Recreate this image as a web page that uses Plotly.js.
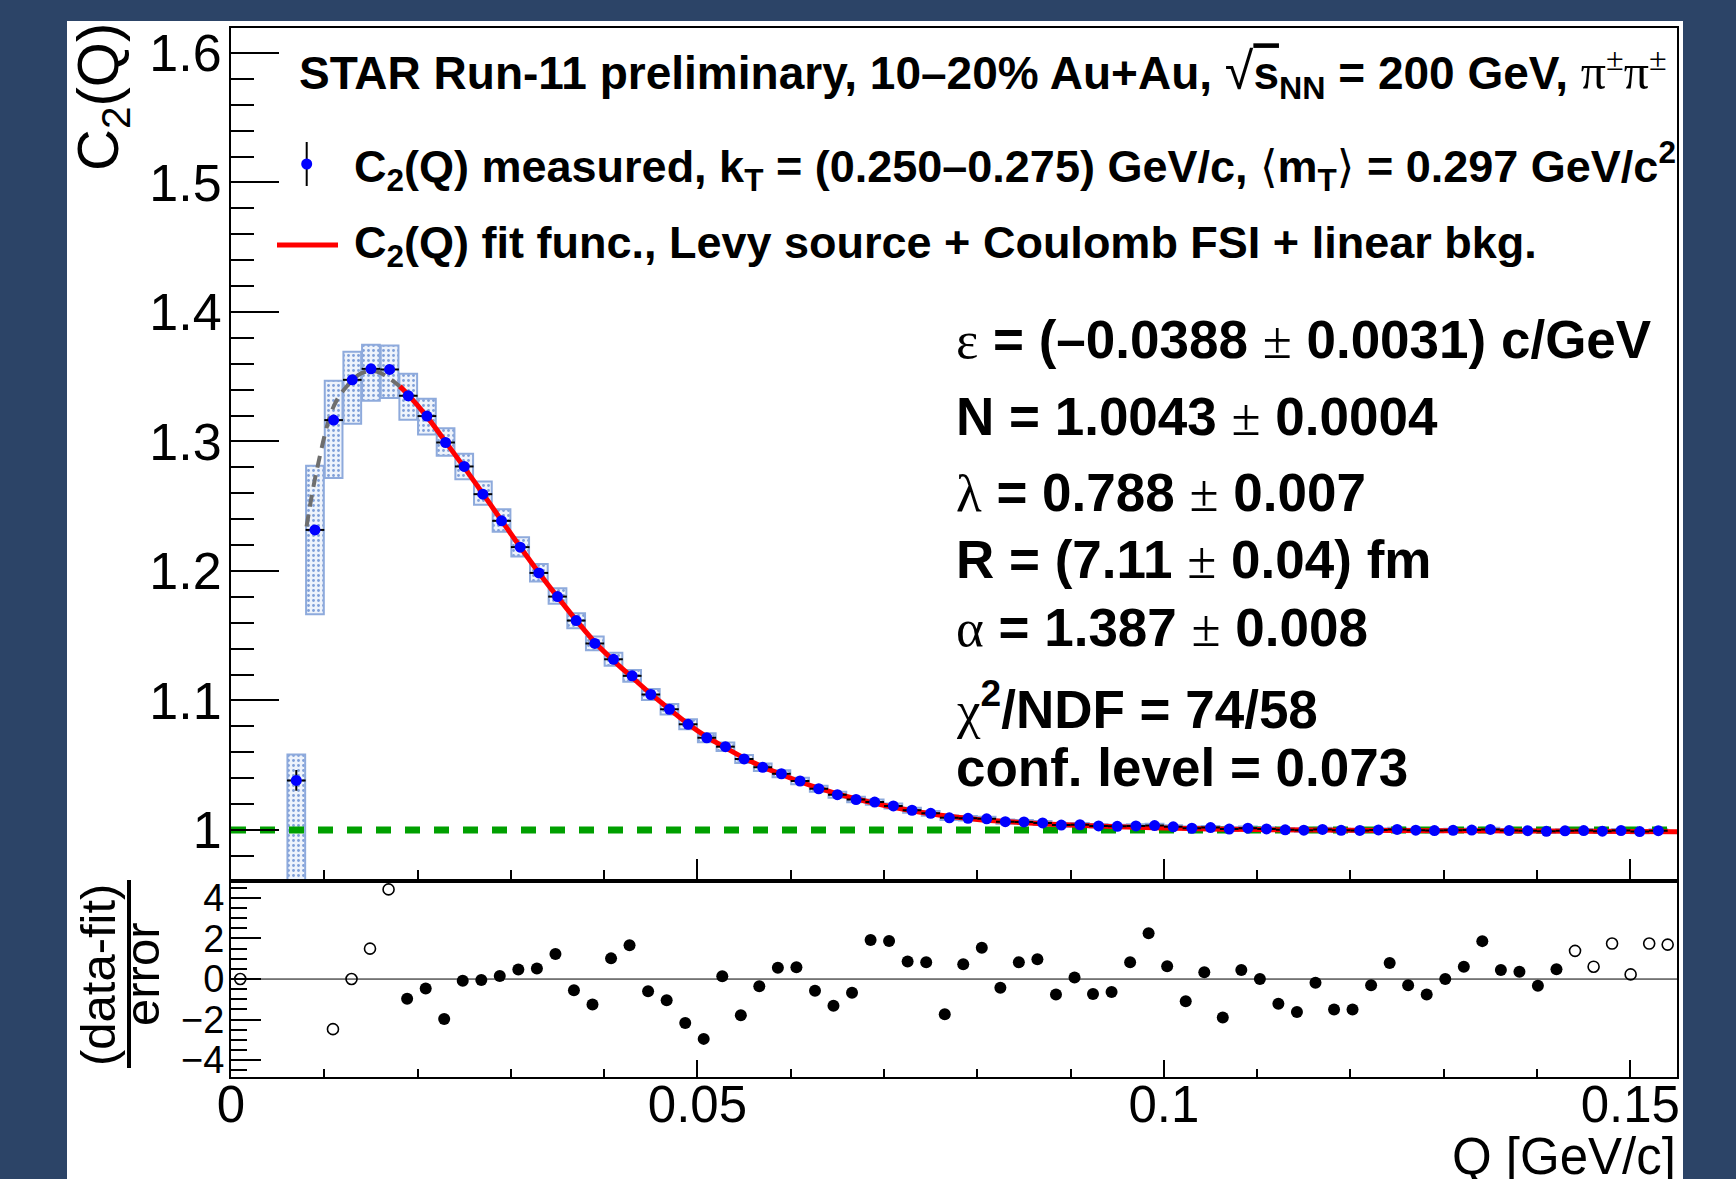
<!DOCTYPE html>
<html><head><meta charset="utf-8">
<script src="https://cdn.plot.ly/plotly-3.0.1.min.js"></script>
<style>
html,body{margin:0;padding:0;background:#2c4467;width:1736px;height:1179px;overflow:hidden;}
#plot{position:absolute;left:67px;top:21px;width:1616px;height:1158px;background:#fff;}
</style></head><body><div id="plot"></div>
<script>
// ---------------- data ----------------
const Q = [0.007,0.009,0.011,0.013,0.015,0.017,0.019,0.021,0.023,0.025,0.027,0.029,0.031,0.033,0.035,0.037,0.039,0.041,0.043,0.045,0.047,0.049,0.051,0.053,0.055,0.057,0.059,0.061,0.063,0.065,0.067,0.069,0.071,0.073,0.075,0.077,0.079,0.081,0.083,0.085,0.087,0.089,0.091,0.093,0.095,0.097,0.099,0.101,0.103,0.105,0.107,0.109,0.111,0.113,0.115,0.117,0.119,0.121,0.123,0.125,0.127,0.129,0.131,0.133,0.135,0.137,0.139,0.141,0.143,0.145,0.147,0.149,0.151,0.153];
const C2 = [1.0382,1.2317,1.3165,1.3476,1.3561,1.3556,1.3353,1.3196,1.2992,1.2807,1.2593,1.2387,1.2184,1.1985,1.1802,1.1617,1.1440,1.1318,1.1190,1.1046,1.0932,1.0816,1.0712,1.0643,1.0548,1.0484,1.0434,1.0378,1.0318,1.0272,1.0235,1.0215,1.0185,1.0152,1.0128,1.0094,1.0090,1.0086,1.0064,1.0062,1.0054,1.0038,1.0040,1.0031,1.0028,1.0031,1.0034,1.0024,1.0013,1.0018,1.0007,1.0014,1.0008,1.0001,0.9998,1.0004,0.9997,0.9996,1.0000,1.0004,0.9998,0.9995,0.9997,0.9999,1.0004,0.9995,0.9994,0.9989,0.9993,0.9995,0.9990,0.9995,0.9987,0.9994];
const statErr = [0.008,0.003,0.0025,0.002,0.002,0.0018,0.0016,0.0016,0.0016,0.0016,0.0016,0.0016,0.0016,0.0016,0.0016,0.0016,0.0016,0.0016,0.0016,0.0016,0.0016,0.0016,0.0013,0.0013,0.0013,0.0013,0.0013,0.0013,0.0013,0.0013,0.0013,0.0013,0.0013,0.0013,0.0013,0.0013,0.0013,0.0013,0.0013,0.0013,0.0013,0.0013,0.0011,0.0011,0.0011,0.0011,0.0011,0.0011,0.0011,0.0011,0.0011,0.0011,0.0011,0.0011,0.0011,0.0011,0.0011,0.0011,0.0011,0.0011,0.0011,0.0011,0.0011,0.0011,0.0011,0.0011,0.0011,0.0011,0.0011,0.0011,0.0011,0.0011,0.0011,0.0011];
const binHalfWidth = 0.001;
const sysUp = [0.020,0.0495,0.0304,0.0217,0.0186,0.0185,0.017,0.0133,0.0111,0.0098,0.0098,0.009,0.0076,0.0068,0.0065,0.0057,0.0053,0.0050,0.0046,0.0043,0.0040,0.0038,0.0035,0.0033,0.0031,0.0029,0.0027,0.0025,0.0024,0.0023,0.0022,0.0021,0.0020,0.0019,0.0018,0.0017,0.0017,0.0016,0.0016,0.0015,0.0015,0.0014,0.0014,0.0013,0.0013,0.0013,0.0013,0.0013,0.0013,0.0013,0.0013,0.0013,0.0012,0.0012,0.0012,0.0012,0.0012,0.0012,0.0012,0.0012,0.0012,0.0012,0.0012,0.0012,0.0012,0.0012,0.0012,0.0012,0.0012,0.0012,0.0012,0.0012,0.0012,0.0012];
const sysDown = [0.10,0.0651,0.0448,0.034,0.0247,0.0221,0.0186,0.0142,0.0103,0.0098,0.0082,0.0085,0.0073,0.0067,0.0056,0.0059,0.0053,0.0050,0.0046,0.0043,0.0040,0.0038,0.0035,0.0033,0.0031,0.0029,0.0027,0.0025,0.0024,0.0023,0.0022,0.0021,0.0020,0.0019,0.0018,0.0017,0.0017,0.0016,0.0016,0.0015,0.0015,0.0014,0.0014,0.0013,0.0013,0.0013,0.0013,0.0013,0.0013,0.0013,0.0013,0.0013,0.0012,0.0012,0.0012,0.0012,0.0012,0.0012,0.0012,0.0012,0.0012,0.0012,0.0012,0.0012,0.0012,0.0012,0.0012,0.0012,0.0012,0.0012,0.0012,0.0012,0.0012,0.0012];

// fit function (red, fit range) and its extrapolation (grey dashed)
const fitQ  = [0.0181,0.019,0.021,0.023,0.025,0.027,0.029,0.031,0.033,0.035,0.037,0.039,0.041,0.043,0.045,0.047,0.049,0.051,0.053,0.055,0.057,0.059,0.061,0.063,0.065,0.067,0.069,0.071,0.073,0.075,0.077,0.080,0.085,0.090,0.095,0.100,0.105,0.110,0.120,0.130,0.140,0.155];
const fitC2 = [1.3425,1.3360,1.3192,1.2997,1.2800,1.2597,1.2390,1.2185,1.1987,1.1800,1.1620,1.1450,1.1308,1.1178,1.1050,1.0932,1.0818,1.0718,1.0635,1.0556,1.0487,1.0428,1.0372,1.0322,1.0279,1.0241,1.0206,1.0175,1.0148,1.0125,1.0105,1.0081,1.0056,1.0038,1.0025,1.0015,1.0008,1.0003,0.9997,0.9994,0.9991,0.9986];
const extrapQ  = [0.0081,0.0092,0.0110,0.0124,0.0140,0.0156,0.0167,0.0181];
const extrapC2 = [1.2343,1.2780,1.3270,1.3425,1.3528,1.3540,1.3502,1.3425];

// residuals (data-fit)/error : fitted points (filled) and points outside fit range (open)
const resQ   = [0.01888,0.02087,0.02285,0.02484,0.02683,0.02881,0.03080,0.03279,0.03478,0.03676,0.03875,0.04074,0.04272,0.04471,0.04670,0.04869,0.05067,0.05266,0.05465,0.05663,0.05862,0.06061,0.06260,0.06458,0.06657,0.06856,0.07054,0.07253,0.07452,0.07651,0.07849,0.08048,0.08247,0.08445,0.08644,0.08843,0.09042,0.09240,0.09439,0.09638,0.09836,0.10035,0.10234,0.10433,0.10631,0.10830,0.11029,0.11227,0.11426,0.11625,0.11824,0.12022,0.12221,0.12420,0.12618,0.12817,0.13016,0.13215,0.13413,0.13612,0.13811,0.14009,0.14208];
const resVal = [-0.97,-0.47,-1.97,-0.08,-0.05,0.15,0.47,0.52,1.23,-0.55,-1.25,1.02,1.67,-0.6,-1.05,-2.17,-2.95,0.14,-1.78,-0.35,0.56,0.58,-0.58,-1.32,-0.68,1.93,1.88,0.86,0.83,-1.74,0.73,1.54,-0.43,0.83,0.98,-0.76,0.08,-0.74,-0.64,0.83,2.26,0.63,-1.09,0.33,-1.90,0.45,0.0,-1.22,-1.62,-0.18,-1.50,-1.50,-0.31,0.79,-0.30,-0.76,0.0,0.61,1.87,0.45,0.36,-0.33,0.48];
const openQ   = [0.00099,0.01093,0.01292,0.01490,0.01689,0.14407,0.14606,0.14804,0.15003,0.15202,0.15400];
const openVal = [0,-2.47,0,1.5,4.42,1.39,0.61,1.75,0.23,1.75,1.70];

const refC2 = 1;      // green dashed reference
const refRes = 0;     // zero line in ratio panel
const qRange = [0, 0.155];
const c2Range = [0.9608, 1.6193];
const resRange = [-4.83, 4.85];

// ---------------- layout helpers ----------------
const W = 1616, H = 1158, M = {l:164, r:6, t:7, b:102};
const OX = 67, OY = 21;
const px = X => (X - OX - M.l) / (W - M.l - M.r);
const py = Y => 1 - (Y - OY - M.t) / (H - M.t - M.b);
const SANS = 'Liberation Sans, Arial, sans-serif';
const gr = t => `<span style="font-family:'Liberation Serif';font-weight:normal">${t}</span>`;
const ang = t => `<span style="font-family:'DejaVu Serif';font-weight:normal">${t}</span>`;
const split = py(880.7);

const traces = [
  { type:'bar', x:Q, base:C2.map((v,i)=>v - sysDown[i]), y:sysUp.map((u,i)=>u + sysDown[i]),
    width:0.0019, xaxis:'x', yaxis:'y', hoverinfo:'skip',
    marker:{color:'#eef3fb', line:{color:'#8eaadc', width:2},
            pattern:{shape:'.', fgcolor:'#7f9fd8', bgcolor:'#eef3fb', size:5, solidity:0.25, fillmode:'replace'}} },
  { type:'scatter', mode:'lines', x:qRange, y:[refC2, refC2], xaxis:'x', yaxis:'y', hoverinfo:'skip',
    line:{color:'#00a000', width:7, dash:'15px,14px'} },
  { type:'scatter', mode:'lines', x:extrapQ, y:extrapC2, xaxis:'x', yaxis:'y', hoverinfo:'skip',
    line:{color:'#6e6e6e', width:4, dash:'12px,8px', shape:'spline'} },
  { type:'scatter', mode:'lines', x:fitQ, y:fitC2, xaxis:'x', yaxis:'y', hoverinfo:'skip',
    line:{color:'#ff0000', width:5, shape:'spline'} },
  { type:'scatter', mode:'markers', x:Q, y:C2, xaxis:'x', yaxis:'y', hoverinfo:'skip',
    marker:{color:'#0000ff', size:11, line:{width:0}},
    error_x:{type:'constant', value:binHalfWidth, color:'#000', thickness:2, width:0},
    error_y:{type:'data', array:statErr, color:'#000', thickness:2, width:0} },
  { type:'scatter', mode:'lines', x:qRange, y:[refRes, refRes], xaxis:'x2', yaxis:'y2', hoverinfo:'skip',
    line:{color:'#000', width:1} },
  { type:'scatter', mode:'markers', x:resQ, y:resVal, xaxis:'x2', yaxis:'y2', hoverinfo:'skip', cliponaxis:false,
    marker:{color:'#000', size:12, symbol:'circle'} },
  { type:'scatter', mode:'markers', x:openQ, y:openVal, xaxis:'x2', yaxis:'y2', hoverinfo:'skip', cliponaxis:false,
    marker:{color:'#000', size:11, symbol:'circle-open', line:{width:1.6, color:'#000'}} }
];

const axBase = {showgrid:false, zeroline:false, showline:true, linecolor:'#000', linewidth:2, mirror:true,
  ticks:'inside', tickcolor:'#000', tickwidth:2};

const layout = {
  width:W, height:H, margin:{l:M.l, r:M.r, t:M.t, b:M.b, pad:0},
  paper_bgcolor:'#ffffff', plot_bgcolor:'#ffffff', showlegend:false, hovermode:false, barmode:'overlay',
  font:{family:SANS, color:'#000'},
  xaxis:Object.assign({}, axBase, {domain:[0,1], anchor:'y', range:qRange, showticklabels:false,
    tick0:0, dtick:0.05, ticklen:22,
    minor:{ticks:'inside', dtick:0.01, ticklen:11, tickwidth:2, tickcolor:'#000'}}),
  yaxis:Object.assign({}, axBase, {domain:[split,1], anchor:'x', range:c2Range,
    tick0:1, dtick:0.1, ticklen:48, ticklabelstandoff:-3,
    tickfont:{family:SANS, size:52, color:'#000'},
    minor:{ticks:'inside', dtick:0.02, ticklen:23, tickwidth:2, tickcolor:'#000'}}),
  xaxis2:Object.assign({}, axBase, {domain:[0,1], anchor:'y2', range:qRange,
    tick0:0, dtick:0.05, ticklen:17, ticklabelstandoff:-18,
    tickfont:{family:SANS, size:51, color:'#000'},
    minor:{ticks:'inside', dtick:0.01, ticklen:8, tickwidth:2, tickcolor:'#000'}}),
  yaxis2:Object.assign({}, axBase, {domain:[0,split], anchor:'x2', range:resRange,
    tick0:0, dtick:2, ticklen:30, ticklabelstandoff:-3,
    tickfont:{family:SANS, size:38, color:'#000'},
    minor:{ticks:'inside', dtick:0.5, ticklen:16, tickwidth:2, tickcolor:'#000'}}),
  annotations:[],
  shapes:[]
};

function txt(X, Y, text, size, opts){
  layout.annotations.push(Object.assign({xref:'paper', yref:'paper', x:px(X), y:py(Y), text:text,
    showarrow:false, xanchor:'left', yanchor:'middle',
    font:{family:SANS, size:size, color:'#000', weight:'bold'}}, opts||{}));
}
// legend block
txt(297, 74, `STAR Run-11 preliminary, 10–20% Au+Au, <span style="font-size:52px;font-weight:normal">√</span><span style="text-decoration:overline">s</span><sub>NN</sub> = 200 GeV, ${gr('<span style="font-size:50px">π</span><sup>±</sup><span style="font-size:50px">π</span><sup>±</sup>')}`, 46);
txt(352, 166, `C<sub>2</sub>(Q) measured, k<sub>T</sub> = (0.250–0.275) GeV/c, ${ang('⟨')}m<sub>T</sub>${ang('⟩')} = 0.297 GeV/c<sup>2</sup>`, 45);
txt(352, 245, `C<sub>2</sub>(Q) fit func., Levy source + Coulomb FSI + linear bkg.`, 45);
// fit parameters
txt(954, 340, `${gr('ε')} = (–0.0388 ${gr('±')} 0.0031) c/GeV`, 53);
txt(954, 416, `N = 1.0043 ${gr('±')} 0.0004`, 53);
txt(954, 492, `${gr('λ')} = 0.788 ${gr('±')} 0.007`, 53);
txt(954, 559, `R = (7.11 ${gr('±')} 0.04) fm`, 53);
txt(954, 627, `${gr('α')} = 1.387 ${gr('±')} 0.008`, 53);
txt(954, 705, `${gr('χ')}<sup>2</sup>/NDF = 74/58`, 53);
txt(954, 767, `conf. level = 0.073`, 53);
// axis titles
txt(102, 97, 'C<sub>2</sub>(Q)', 58, {xanchor:'center', textangle:-90, borderpad:0, font:{family:SANS, size:58, color:'#000'}});
txt(98, 975, '(data-fit)', 49, {xanchor:'center', textangle:-90, borderpad:0, font:{family:SANS, size:49, color:'#000'}});
txt(142, 975, 'error', 49, {xanchor:'center', textangle:-90, borderpad:0, font:{family:SANS, size:49, color:'#000'}});
txt(1677, 1156, 'Q [GeV/c]', 51, {xanchor:'right', borderpad:0, font:{family:SANS, size:51, color:'#000'}});

// legend symbols and fraction bar
layout.shapes.push({type:'line', xref:'paper', yref:'paper', x0:px(306.7), x1:px(306.7), y0:py(142), y1:py(186), line:{color:'#000', width:2}});
layout.shapes.push({type:'circle', xref:'paper', yref:'paper', x0:px(301.2), x1:px(312.2), y0:py(169.5), y1:py(158.5), fillcolor:'#0000ff', line:{width:0}});
layout.shapes.push({type:'line', xref:'paper', yref:'paper', x0:px(277), x1:px(338), y0:py(245), y1:py(245), line:{color:'#ff0000', width:5}});
layout.shapes.push({type:'line', xref:'paper', yref:'paper', x0:px(129), x1:px(129), y0:py(880), y1:py(1068), line:{color:'#000', width:4}});

Plotly.newPlot('plot', traces, layout, {staticPlot:true, displayModeBar:false});
</script></body></html>
